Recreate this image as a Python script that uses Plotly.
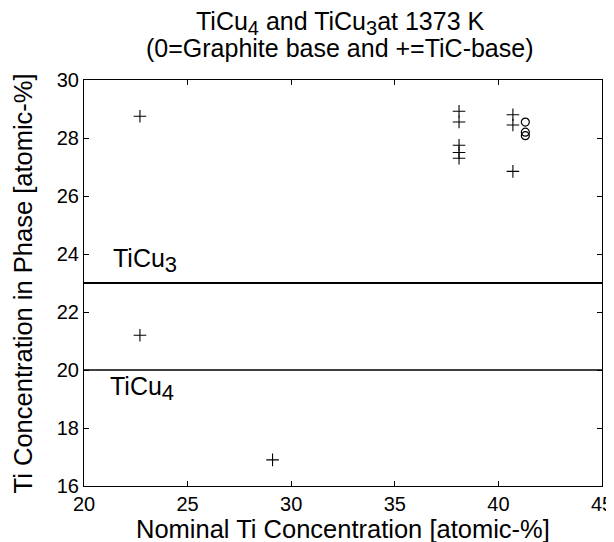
import plotly.graph_objects as go

# TiC-base samples (+ markers)
tic_x = [22.7, 22.7, 29.1, 38.1, 38.1, 38.1, 38.1, 38.1, 40.7, 40.7, 40.7]
tic_y = [28.75, 21.2, 16.9, 28.92, 28.55, 27.75, 27.5, 27.3, 28.8, 28.45, 26.85]

# Graphite-base samples (o markers)
gra_x = [41.3, 41.3, 41.3]
gra_y = [28.55, 28.2, 28.08]

# Phase composition reference lines
phase_subscripts = ["3", "4"]
phase_levels = [23.0, 20.0]
phase_label_x = [21.3, 21.15]
phase_label_y = [23.78, 19.35]

x_range = [20, 45]
y_range = [16, 30]
x_ticks = [20, 25, 30, 35, 40, 45]
y_ticks = [16, 18, 20, 22, 24, 26, 28, 30]

x_title = "Nominal Ti Concentration [atomic-%]"
y_title = "Ti Concentration in Phase [atomic-%]"

FONT = "Liberation Sans, Arial, Helvetica, sans-serif"


def sub(s, px):
    return "<sub><span style='font-size:%dpx'>%s</span></sub>" % (px, s)


fig = go.Figure()

for lvl, w in zip(phase_levels, [2, 1.6]):
    fig.add_trace(go.Scatter(x=x_range, y=[lvl, lvl], mode="lines",
                             line=dict(color="black", width=w),
                             showlegend=False, hoverinfo="skip"))

fig.add_trace(go.Scatter(x=tic_x, y=tic_y, mode="markers",
                         marker=dict(symbol="cross-thin", size=9,
                                     line=dict(color="black", width=1.1)),
                         showlegend=False))
fig.add_trace(go.Scatter(x=gra_x, y=gra_y, mode="markers",
                         marker=dict(symbol="circle-open", size=8,
                                     color="black",
                                     line=dict(color="black", width=1.2)),
                         showlegend=False))

for s, lx, ly in zip(phase_subscripts, phase_label_x, phase_label_y):
    fig.add_annotation(x=lx, y=ly, text="TiCu" + sub(s, 22),
                       showarrow=False, xanchor="left", yanchor="middle",
                       font=dict(family=FONT, size=25, color="black"))

fig.add_annotation(xref="paper", yref="paper", x=0.495, y=1.14,
                   text="TiCu" + sub("4", 20) + " and TiCu" + sub("3", 20)
                   + "at 1373 K",
                   showarrow=False, xanchor="center", yanchor="middle",
                   font=dict(family=FONT, size=25, color="black"))
fig.add_annotation(xref="paper", yref="paper", x=0.495, y=1.078,
                   text="(0=Graphite base and +=TiC-base)",
                   showarrow=False, xanchor="center", yanchor="middle",
                   font=dict(family=FONT, size=25, color="black"))

# axis titles
fig.add_annotation(xref="paper", yref="paper", x=0.5, y=-0.106,
                   text=x_title, showarrow=False,
                   xanchor="center", yanchor="middle",
                   font=dict(family=FONT, size=25.5, color="black"))
fig.add_annotation(xref="paper", yref="paper", x=-0.117, y=0.5,
                   text=y_title, showarrow=False, textangle=-90,
                   xanchor="center", yanchor="middle",
                   font=dict(family=FONT, size=25.5, color="black"))

axis_common = dict(showgrid=False, zeroline=False, showline=True,
                   linecolor="black", linewidth=1.2, mirror="ticks",
                   ticks="inside", ticklen=5, tickwidth=1, tickcolor="black",
                   tickfont=dict(family=FONT, size=20, color="black"))

fig.update_xaxes(range=x_range, tickvals=x_ticks, **axis_common)
fig.update_yaxes(range=y_range, tickvals=y_ticks, **axis_common)

# page body has an 8px margin, so the figure is sized to fit the window
fig.update_layout(width=606, height=534,
                  margin=dict(l=76, r=12, t=72, b=56, autoexpand=False),
                  paper_bgcolor="white", plot_bgcolor="white",
                  showlegend=False)

fig.write_html("out.html")
